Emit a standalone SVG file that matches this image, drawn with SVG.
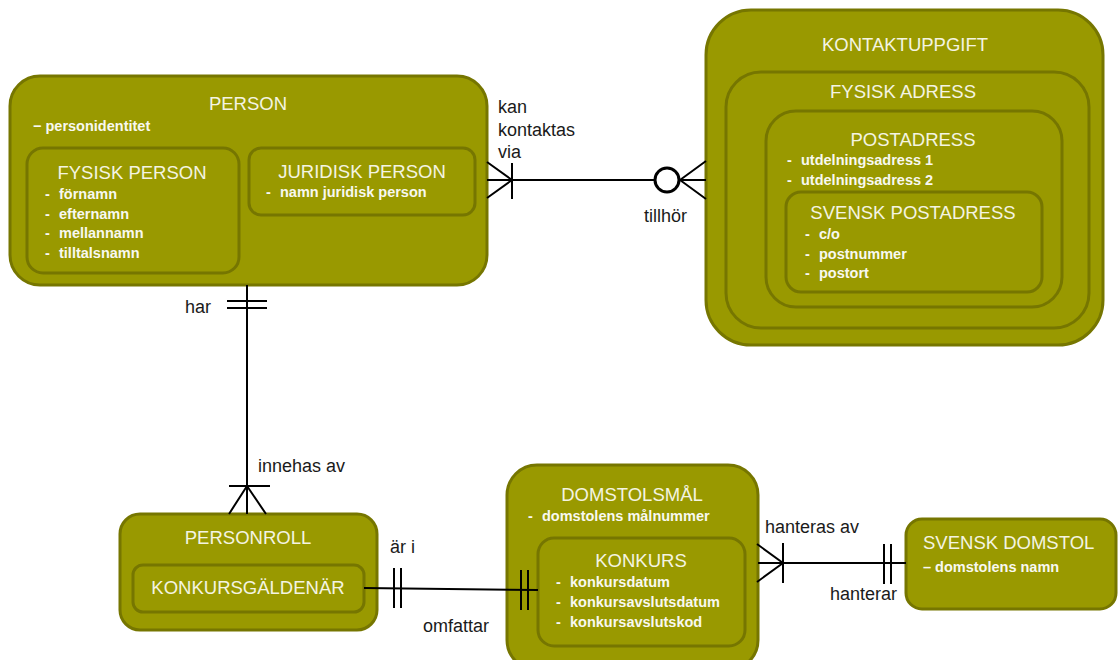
<svg xmlns="http://www.w3.org/2000/svg" width="1118" height="660" viewBox="0 0 1118 660">
<style>
.box{fill:#999900;stroke:#767600;stroke-width:3}
.title{font-family:"Liberation Sans",Arial,sans-serif;font-size:18.5px;fill:#f4f4e2}
.item{font-family:"Liberation Sans",Arial,sans-serif;font-size:14.5px;font-weight:bold;fill:#f8f8f0}
.lbl{font-family:"Liberation Sans",Arial,sans-serif;font-size:18px;fill:#1a1a1a}
.c{stroke:#000;stroke-width:2;fill:none}
.mid{text-anchor:middle}
</style>
<rect width="1118" height="660" fill="#fff"/>

<g id="person">
<rect class="box" x="10" y="76" width="477" height="209" rx="30"/>
<text class="title mid" x="248" y="110">PERSON</text>
<text class="item" x="33" y="131">− personidentitet</text>
</g>
<g id="fysisk-person">
<rect class="box" x="27" y="148" width="212" height="125" rx="16"/>
<text class="title mid" x="132" y="179">FYSISK PERSON</text>
<text class="item" y="199"><tspan x="45">-</tspan><tspan x="59">förnamn</tspan></text>
<text class="item" y="219"><tspan x="45">-</tspan><tspan x="59">efternamn</tspan></text>
<text class="item" y="238"><tspan x="45">-</tspan><tspan x="59">mellannamn</tspan></text>
<text class="item" y="258"><tspan x="45">-</tspan><tspan x="59">tilltalsnamn</tspan></text>
</g>
<g id="juridisk-person">
<rect class="box" x="249" y="148" width="226" height="67" rx="12"/>
<text class="title mid" x="362" y="178">JURIDISK PERSON</text>
<text class="item" y="197"><tspan x="266">-</tspan><tspan x="280">namn juridisk person</tspan></text>
</g>

<g id="kontaktuppgift">
<rect class="box" x="706" y="10" width="397" height="335" rx="45"/>
<text class="title mid" x="905" y="51">KONTAKTUPPGIFT</text>
</g>
<g id="fysisk-adress">
<rect class="box" x="726" y="72" width="363" height="256" rx="35"/>
<text class="title mid" x="903" y="98">FYSISK ADRESS</text>
</g>
<g id="postadress">
<rect class="box" x="766" y="111" width="296" height="196" rx="30"/>
<text class="title mid" x="913" y="146">POSTADRESS</text>
<text class="item" y="165"><tspan x="787">-</tspan><tspan x="801">utdelningsadress 1</tspan></text>
<text class="item" y="185"><tspan x="787">-</tspan><tspan x="801">utdelningsadress 2</tspan></text>
</g>
<g id="svensk-postadress">
<rect class="box" x="786" y="192" width="256" height="100" rx="15"/>
<text class="title mid" x="913" y="219">SVENSK POSTADRESS</text>
<text class="item" y="239"><tspan x="805">-</tspan><tspan x="819">c/o</tspan></text>
<text class="item" y="259"><tspan x="805">-</tspan><tspan x="819">postnummer</tspan></text>
<text class="item" y="278"><tspan x="805">-</tspan><tspan x="819">postort</tspan></text>
</g>

<g id="personroll">
<rect class="box" x="120" y="514" width="257" height="116" rx="20"/>
<text class="title mid" x="248" y="544">PERSONROLL</text>
</g>
<g id="konkursgaldenar">
<rect class="box" x="133" y="565" width="231" height="47" rx="10"/>
<text class="title mid" x="248" y="594">KONKURSGÄLDENÄR</text>
</g>

<g id="domstolsmal">
<rect class="box" x="507" y="465" width="251" height="205" rx="30"/>
<text class="title mid" x="632" y="501">DOMSTOLSMÅL</text>
<text class="item" y="521"><tspan x="528">-</tspan><tspan x="542">domstolens målnummer</tspan></text>
</g>
<g id="konkurs">
<rect class="box" x="538" y="538" width="207" height="108" rx="16"/>
<text class="title mid" x="641" y="567">KONKURS</text>
<text class="item" y="587"><tspan x="556">-</tspan><tspan x="570">konkursdatum</tspan></text>
<text class="item" y="607"><tspan x="556">-</tspan><tspan x="570">konkursavslutsdatum</tspan></text>
<text class="item" y="627"><tspan x="556">-</tspan><tspan x="570">konkursavslutskod</tspan></text>
</g>

<g id="svensk-domstol">
<rect class="box" x="906" y="519" width="210" height="90" rx="16"/>
<text class="title" x="923" y="549">SVENSK DOMSTOL</text>
<text class="item" x="923" y="572">– domstolens namn</text>
</g>

<g id="connectors">
<line class="c" x1="487" y1="180" x2="655" y2="180"/>
<path class="c" d="M487 162 L512 180 L487 198 M512 163 V199"/>
<circle cx="667" cy="180" r="12" fill="#fff" stroke="#000" stroke-width="3"/>
<path class="c" d="M680 180 L706 161 M680 180 H706 M680 180 L706 199"/>
<line class="c" x1="247" y1="285" x2="247" y2="514"/>
<path class="c" d="M227 301 H267 M227 308 H267"/>
<path class="c" d="M229 486 H270 M229 514 L247 486 L266 514"/>
<line class="c" x1="364" y1="588" x2="538" y2="590"/>
<path class="c" d="M394 568 V608 M401 568 V608"/>
<path class="c" d="M521 570 V610 M528 570 V610"/>
<line class="c" x1="758" y1="563" x2="906" y2="563"/>
<path class="c" d="M757 544 L783 563 L757 582 M783 543 V583"/>
<path class="c" d="M884 544 V584 M891 544 V584"/>
</g>

<g id="labels">
<text class="lbl" x="498" y="113">kan</text>
<text class="lbl" x="498" y="136">kontaktas</text>
<text class="lbl" x="498" y="158">via</text>
<text class="lbl" x="644" y="222">tillhör</text>
<text class="lbl" x="185" y="313">har</text>
<text class="lbl" x="258" y="472">innehas av</text>
<text class="lbl" x="390" y="553">är i</text>
<text class="lbl" x="423" y="632">omfattar</text>
<text class="lbl" x="765" y="533">hanteras av</text>
<text class="lbl" x="830" y="600">hanterar</text>
</g>
</svg>
